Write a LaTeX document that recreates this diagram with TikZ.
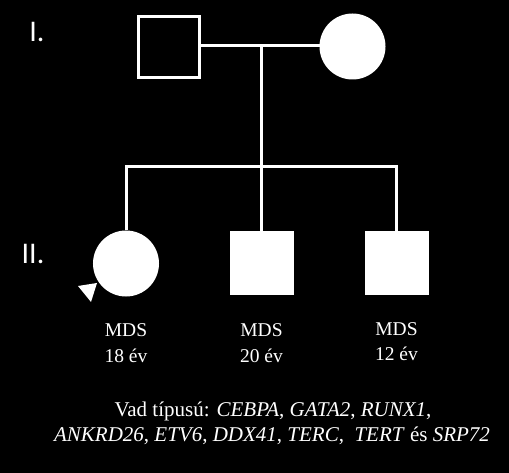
\documentclass[tikz,border=0pt]{standalone}
\usepackage{fontspec}
\setmainfont{Liberation Serif}
\newfontfamily\genfont{Carlito}
\usepackage{tikz}
\usetikzlibrary{positioning}
\tikzset{
  male/.style={rectangle, draw=white, line width=3pt, minimum size=61pt, inner sep=0pt},
  female/.style={circle, draw=white, fill=white, line width=3pt, minimum size=63pt, inner sep=0pt},
  affected/.style={fill=white},
  gen/.style={text=white, font=\genfont\fontsize{30}{34}\selectfont, anchor=base, inner sep=0pt},
  txt/.style={text=white, font=\fontsize{19.5}{23}\selectfont, anchor=base, inner sep=0pt},
  note/.style={txt, font=\fontsize{21}{25}\selectfont},
  every picture/.style={line cap=butt, line join=miter}
}
\begin{document}
\begin{tikzpicture}[x=1pt,y=-1pt]
  \fill[black] (0,0) rectangle (509,473);
  \useasboundingbox (0,0) rectangle (509,473);

  % generation I
  \node[gen] (g1) at (37,42) {I.};
  \node[male] (i1) at (169,47) {};
  \node[female] (i2) at (352.5,46.5) {};

  % generation II
  \node[gen] (g2) at (33,264) {II.};
  \node[female] (ii1) at (126,263.5) {};
  \node[male,affected] (ii2) at (261.5,263.5) {};
  \node[male,affected] (ii3) at (396.5,263.5) {};

  \coordinate (desc) at (261.5,46);
  \coordinate (sib) at (261.5,167);

  \draw[white, line width=3pt] (i1.east |- desc) -- (i2.west |- desc);
  \draw[white, line width=3pt] (desc) -- (sib);
  \draw[white, line width=3pt] (ii1.north) |- (sib) -| (ii3.north);
  \draw[white, line width=3pt] (sib) -- (ii2.north);

  % proband
  \fill[white] (78,286) -- (97,283) -- (91,302) -- cycle;

  \node[txt] (d1) at (126,337) {MDS};
  \node[txt] (a1) at (126,362) {18 év};
  \node[txt] (d2) at (261.5,337) {MDS};
  \node[txt] (a2) at (261.5,362) {20 év};
  \node[txt] (d3) at (396.5,335) {MDS};
  \node[txt] (a3) at (396.5,360) {12 év};

  \node[note] (wt1) at (273,416) {Vad típusú: \textit{CEBPA}, \textit{GATA2}, \textit{RUNX1},};
  \node[note] (wt2) at (272,441) {\textit{ANKRD26}, \textit{ETV6}, \textit{DDX41}, \textit{TERC},\ \ \textit{TERT} és \textit{SRP72}};
\end{tikzpicture}
\end{document}
